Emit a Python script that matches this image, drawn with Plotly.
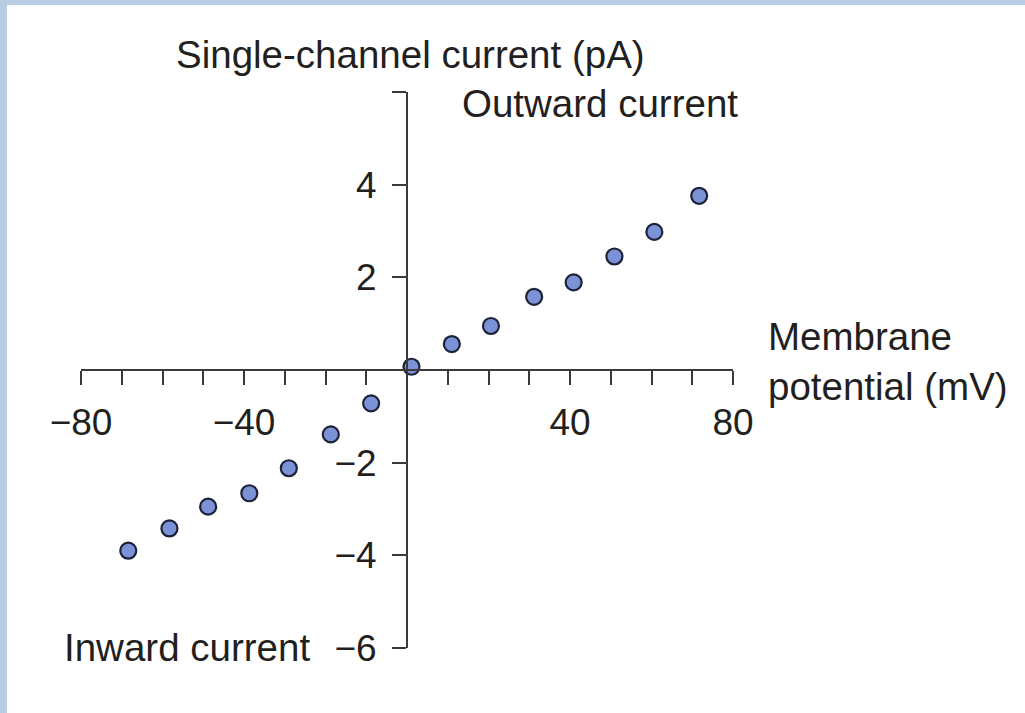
import plotly.graph_objects as go

# Data
membrane_potential_mV = [-68.4, -58.3, -48.8, -38.7, -29.0, -18.7, -8.8,
                         1.1, 11.0, 20.6, 31.2, 40.9, 50.9, 60.7, 71.7]
single_channel_current_pA = [-3.90, -3.42, -2.95, -2.66, -2.12, -1.39, -0.72,
                             0.07, 0.56, 0.95, 1.58, 1.89, 2.45, 2.98, 3.76]

x_tickvals = [-80, -70, -60, -50, -40, -30, -20, -10, 0, 10, 20, 30, 40, 50, 60, 70, 80]
x_ticktext = ["−80", "", "", "", "−40", "", "", "", "", "", "", "", "40", "", "", "", "80"]
y_tickvals = [-6, -4, -2, 2, 4, 6]
y_ticktext = ["−6", "−4", "−2", "2", "4", ""]

W, H = 1025, 713
L, R, T, B = 81, 292, 92, 65
PW, PH = W - L - R, H - T - B

def px_x(px):
    return (px - L) / PW

def px_y(py):
    return (H - B - py) / PH

FONT = "Liberation Sans, Arial, Helvetica, sans-serif"
TXT = "#231f20"
AX = "#3a3a3a"

fig = go.Figure()
fig.add_trace(go.Scatter(
    x=membrane_potential_mV, y=single_channel_current_pA,
    mode="markers", cliponaxis=False,
    marker=dict(size=16, color="#7b93d6", line=dict(color="#1c2238", width=2.2)),
    showlegend=False, hoverinfo="x+y",
))

axis_common = dict(showgrid=False, zeroline=False, showline=True, linewidth=2,
                   linecolor=AX, ticks="outside", ticklen=14, tickwidth=2,
                   tickcolor=AX, tickfont=dict(family=FONT, size=37, color=TXT),
                   tickmode="array", fixedrange=True)

fig.update_layout(
    width=W, height=H,
    margin=dict(l=L, r=R, t=T, b=B, pad=0),
    paper_bgcolor="white", plot_bgcolor="white",
    xaxis=dict(range=[-80, 80], domain=[0, 1], anchor="free", position=0.5,
               tickvals=x_tickvals, ticktext=x_ticktext, ticklabelstandoff=6,
               **axis_common),
    yaxis=dict(range=[-6, 6], domain=[0, 1], anchor="free", position=0.5,
               tickvals=y_tickvals, ticktext=y_ticktext, ticklabelstandoff=8,
               **axis_common),
    font=dict(family=FONT, color=TXT),
)

labels = [
    ("Single-channel current (pA)", 175, 55, "left"),
    ("Outward current", 461, 104, "left"),
    ("Inward current", 63, 647, "left"),
    ("Membrane<br>potential (mV)", 767, 361, "left"),
]
for text, lx, ly, align in labels:
    fig.add_annotation(text=text, x=px_x(lx), y=px_y(ly), xref="paper", yref="paper",
                       xanchor="left", yanchor="middle", align=align, showarrow=False,
                       font=dict(family=FONT, size=38.5, color=TXT), borderpad=0)

# light blue frame bands along top and left edges
band = "#b8cde4"
fig.add_shape(type="rect", xref="paper", yref="paper", layer="below",
              x0=px_x(0), x1=px_x(1025), y0=px_y(5), y1=px_y(0),
              fillcolor=band, line_width=0)
fig.add_shape(type="rect", xref="paper", yref="paper", layer="below",
              x0=px_x(0), x1=px_x(7), y0=px_y(713), y1=px_y(0),
              fillcolor=band, line_width=0)

fig.write_html("out.html", config={"displayModeBar": False},
               post_script="document.body.style.margin='0';")
